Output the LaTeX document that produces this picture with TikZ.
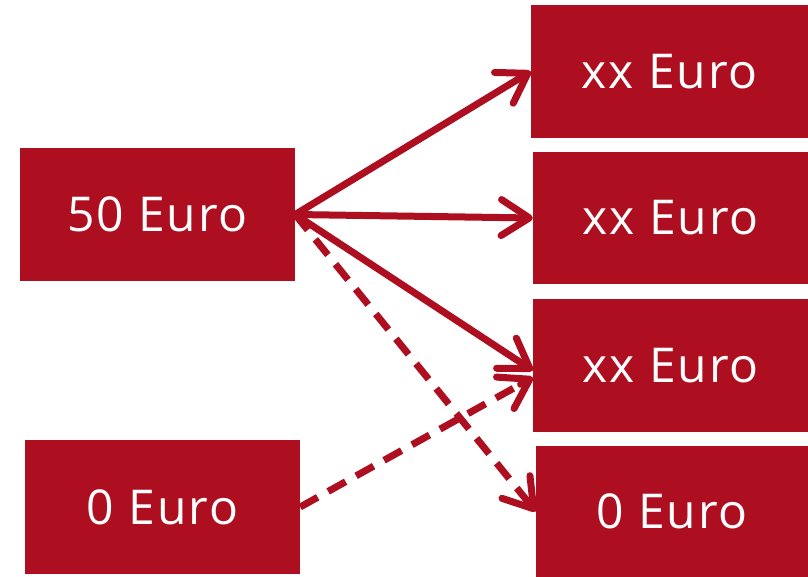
\documentclass[tikz,border=0pt]{standalone}
\usepackage{fontspec}
\setmainfont{Open Sans}[LetterSpace=4]
\usetikzlibrary{arrows.meta,calc}
\definecolor{dred}{HTML}{AE0F20}
\begin{document}
\begin{tikzpicture}[x=1pt,y=-1pt,
  box/.style={fill=dred,draw=none,text=white,inner sep=0pt,font=\fontsize{48}{52}\selectfont},
  tipstyle/.style={-{Straight Barb[length=28pt,width=36pt,line cap=round,line join=round]}},
  conn/.style={draw=dred,line width=7pt,line cap=round,tipstyle},
  dconn/.style={draw=dred,line width=7pt,dash pattern=on 20pt off 12pt}]
\useasboundingbox (0,0) rectangle (808,577);
\node[box,minimum width=275pt,minimum height=133pt] (A) at (157.5,214.5) {50 Euro};
\node[box,minimum width=275pt,minimum height=134pt] (B) at (162.5,507) {0 Euro};
\node[box,minimum width=277pt,minimum height=133pt] (C1) at (669.5,71.5) {xx Euro};
\node[box,minimum width=275pt,minimum height=132pt] (C2) at (670.5,218) {xx Euro};
\node[box,minimum width=275pt,minimum height=133pt] (C3) at (670.5,365.5) {xx Euro};
\node[box,minimum width=272pt,minimum height=131pt] (C4) at (672,511.5) {0 Euro};
\coordinate (t3) at ([yshift=-5pt]C3.west);
\coordinate (t3b) at ([yshift=-12pt]C3.west);
\draw[conn] (A.east) -- (C1.west);
\draw[conn] (A.east) -- (C2.west);
\draw[conn] (A.east) -- (t3);
\draw[dconn] (B.east) -- ($(t3b)!14pt!(B.east)$);
\draw[conn] ($(t3b)!14pt!(B.east)$) -- (t3b);
\draw[dconn] (A.east) -- ($(C4.west)!14pt!(A.east)$);
\draw[conn] ($(C4.west)!14pt!(A.east)$) -- (C4.west);
\end{tikzpicture}
\end{document}
